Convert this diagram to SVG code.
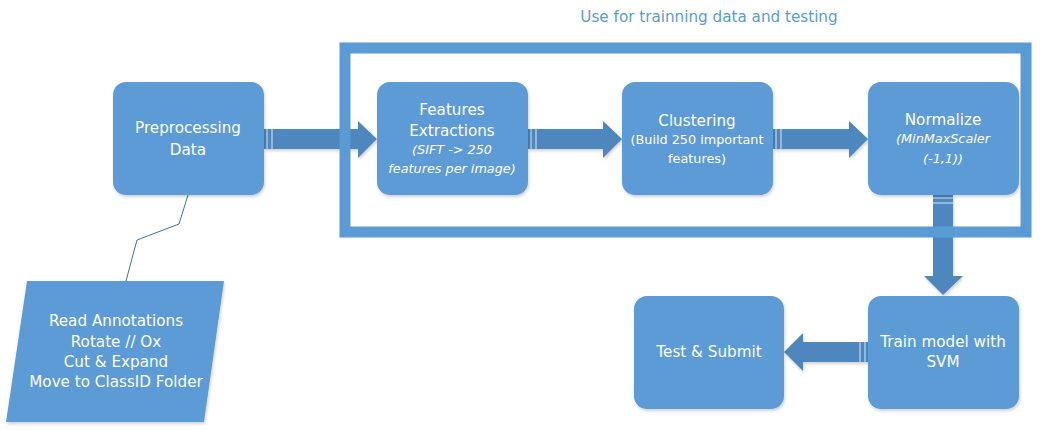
<svg xmlns="http://www.w3.org/2000/svg" width="1054" height="430" viewBox="0 0 1054 430">
<defs>
<filter id="sh" x="-10%" y="-10%" width="120%" height="120%">
<feDropShadow dx="1" dy="2" stdDeviation="1.5" flood-color="#000" flood-opacity="0.18"/>
</filter>
</defs>
<style>
.node{fill:#5B9BD5;filter:url(#sh);}
.arr{fill:#4E87BE;filter:url(#sh);}
.tl{stroke:#ffffff;stroke-width:1;opacity:0.8;}
text{font-family:"DejaVu Sans","Verdana",sans-serif;fill:#ffffff;text-anchor:middle;}
.t{font-size:15.2px;}
.s{font-size:12.8px;}
.i{font-size:12.8px;font-style:italic;}
.title{fill:#5B9BD5;font-size:15.2px;}
</style>
<rect width="1054" height="430" fill="#ffffff"/>
<g id="connectors">
<polyline points="188,195 179,224 137,240 126,281" fill="none" stroke="#41719C" stroke-width="1"/>
<g id="arrow-pre-feat">
<polygon class="arr" points="264,129 358,129 358,121 377,139 358,158 358,149 264,149"/>
<line class="tl" x1="267" y1="129" x2="267" y2="149"/><line class="tl" x1="272" y1="129" x2="272" y2="149"/>
</g>
<g id="arrow-feat-clus">
<polygon class="arr" points="528,129 603,129 603,121 622,139 603,158 603,149 528,149"/>
<line class="tl" x1="531" y1="129" x2="531" y2="149"/><line class="tl" x1="536" y1="129" x2="536" y2="149"/>
</g>
<g id="arrow-clus-norm">
<polygon class="arr" points="773,129 849,129 849,121 868,139 849,158 849,149 773,149"/>
<line class="tl" x1="776" y1="129" x2="776" y2="149"/><line class="tl" x1="781" y1="129" x2="781" y2="149"/>
</g>
<g id="arrow-norm-train">
<polygon class="arr" points="933,195 953,195 953,276 963,276 943,295 924,276 933,276"/>
<line class="tl" x1="933" y1="198" x2="953" y2="198"/><line class="tl" x1="933" y1="203" x2="953" y2="203"/>
</g>
<g id="arrow-train-test">
<polygon class="arr" points="868,342 803,342 803,333 784,352 803,371 803,362 868,362"/>
<line class="tl" x1="860" y1="342" x2="860" y2="362"/><line class="tl" x1="865" y1="342" x2="865" y2="362"/>
</g>
</g>
<g id="frame">
<rect x="345" y="48" width="681" height="184" fill="none" stroke="#5B9BD5" stroke-width="11"/>
<text class="title" x="709" y="22">Use for trainning data and testing</text>
</g>
<g id="preprocessing">
<rect class="node" x="113" y="82" width="151" height="113" rx="13"/>
<text class="t" x="188" y="133">Preprocessing</text>
<text class="t" x="188" y="155">Data</text>
</g>
<g id="features">
<rect class="node" x="377" y="82" width="151" height="113" rx="13"/>
<text class="t" x="452" y="115">Features</text>
<text class="t" x="452" y="136">Extractions</text>
<text class="i" x="452" y="154">(SIFT -&gt; 250</text>
<text class="i" x="452" y="173">features per image)</text>
</g>
<g id="clustering">
<rect class="node" x="622" y="82" width="151" height="113" rx="13"/>
<text class="t" x="697" y="126">Clustering</text>
<text class="s" x="697" y="144">(Build 250 important</text>
<text class="s" x="697" y="163">features)</text>
</g>
<g id="normalize">
<rect class="node" x="868" y="82" width="151" height="113" rx="13"/>
<text class="t" x="943" y="125">Normalize</text>
<text class="i" x="943" y="143">(MinMaxScaler</text>
<text class="i" x="943" y="163">(-1,1))</text>
</g>
<g id="train">
<rect class="node" x="868" y="296" width="151" height="113" rx="13"/>
<text class="t" x="943" y="347">Train model with</text>
<text class="t" x="943" y="367">SVM</text>
</g>
<g id="test">
<rect class="node" x="634" y="296" width="150" height="113" rx="13"/>
<text class="t" x="709" y="357">Test &amp; Submit</text>
</g>
<g id="read">
<polygon class="node" points="27,281 224,281 204,422 6,422"/>
<text class="t" x="116" y="326">Read Annotations</text>
<text class="t" x="116" y="347">Rotate // Ox</text>
<text class="t" x="116" y="367">Cut &amp; Expand</text>
<text class="t" x="116" y="387">Move to ClassID Folder</text>
</g>
</svg>
